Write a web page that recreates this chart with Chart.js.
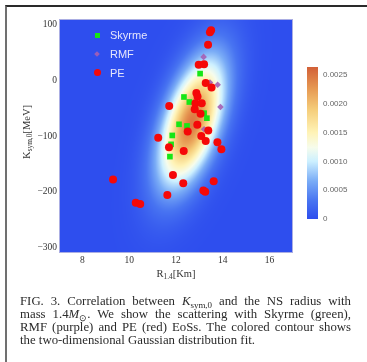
<!DOCTYPE html>
<html>
<head>
<meta charset="utf-8">
<script src="https://cdn.jsdelivr.net/npm/chart.js@4.4.1/dist/chart.umd.min.js"></script>
<style>
body{margin:0;background:#fff;width:367px;height:362px;overflow:hidden;position:relative;font-family:"Liberation Serif",serif}
#frame{position:absolute;left:5px;top:5px;width:362px;height:357px;border-top:2px solid #2a2a2a;border-left:2px solid #707070}
#main{position:absolute;left:0;top:0}
#cbar{position:absolute;left:300px;top:55px}
.axlab{position:absolute;white-space:nowrap;font-size:10.5px;color:#333;line-height:1}
#ylab{left:27px;top:132px;transform:translate(-50%,-50%) rotate(-90deg)}
#xlab{left:176px;top:274px;transform:translate(-50%,-50%)}
sub{font-size:70%;vertical-align:-0.3em;line-height:0}
#legend{position:absolute;left:0;top:0;font-family:"Liberation Sans",sans-serif;font-size:11px;color:#e6e6fb}
.lrow{position:absolute;left:110px;height:14px;line-height:14px}
.mk{position:absolute}
#caption{position:absolute;left:20px;top:295px;width:331px;font-size:12.8px;line-height:13px;color:#2b2b2b}
#caption div{white-space:nowrap}
#caption .j{white-space:normal;text-align:justify;text-align-last:justify}
</style>
</head>
<body>
<div id="frame"></div>
<canvas id="main" width="300" height="270"></canvas>
<canvas id="cbar" width="67" height="175"></canvas>
<div id="ylab" class="axlab">K<sub>sym,0</sub>[MeV]</div>
<div id="xlab" class="axlab">R<sub>1.4</sub>[Km]</div>
<div id="legend"></div>
<div id="caption">
<div class="j">FIG. 3. Correlation between <i>K</i><sub>sym,0</sub> and the NS radius with</div>
<div class="j">mass 1.4<i>M</i><sub>&#8857;</sub>. We show the scattering with Skyrme (green),</div>
<div class="j">RMF (purple) and PE (red) EoSs. The colored contour shows</div>
<div>the two-dimensional Gaussian distribution fit.</div>
</div>
<script>
// radius R_1.4 [km] and K_sym,0 [MeV] of each EoS
var SKYRME_R = [13.03, 12.34, 12.57, 13.20, 13.32, 12.13, 12.47, 11.84, 11.79, 11.74];
var SKYRME_K = [12, -30, -39, -59, -68, -79, -82, -99, -115, -137];
var RMF_R = [13.18, 13.45, 13.78, 13.90, 13.20];
var RMF_K = [42, -4, -8, -48, -88];
var PE_R = [13.50, 13.45, 13.37, 12.97, 13.20, 13.27, 13.52, 12.87, 12.92, 12.83, 13.10,
	11.71, 12.80, 13.05, 12.91, 12.50, 13.38, 13.08, 13.27, 11.24, 11.70, 12.33,
	13.77, 13.94, 11.87, 12.31, 13.61, 13.17, 13.25, 11.63, 9.31, 10.28, 10.47];
var PE_K = [90, 86, 64, 28, 29, -5, -13, -23, -29, -41, -41,
	-46, -52, -60, -80, -92, -90, -100, -109, -103, -120, -127,
	-111, -124, -170, -185, -181, -198, -200, -206, -178, -220, -222];

var R_TICKS = [8, 10, 12, 14, 16];
var K_TICKS = [100, 0, -100, -200, -300];
var CBAR_TICKS = [0, 0.0005, 0.001, 0.0015, 0.002, 0.0025];
var CBAR_MAX = 0.00264;

// colour map  (fraction, r, g, b)
var CMAP = [
	[0, 46, 78, 238],
	[0.12, 72, 116, 241],
	[0.25, 122, 172, 246],
	[0.38, 205, 240, 255],
	[0.47, 246, 252, 236],
	[0.57, 255, 243, 182],
	[0.72, 245, 205, 122],
	[0.86, 230, 152, 82],
	[1, 210, 96, 56]
];

function colorAt(t){
	if(t<0) t=0;
	if(t>1) t=1;
	for(var i=1;i<CMAP.length;i++){
		if(t<=CMAP[i][0]){
			var a=CMAP[i-1], b=CMAP[i];
			var f=(t-a[0])/(b[0]-a[0]);
			return [a[1]+(b[1]-a[1])*f, a[2]+(b[2]-a[2])*f, a[3]+(b[3]-a[3])*f];
		}
	}
	var l=CMAP[CMAP.length-1];
	return [l[1],l[2],l[3]];
}

function pts(xs, ys){
	return xs.map(function(v,i){ return {x:v, y:ys[i]}; });
}

// 2D gaussian fitted to all the EoS points
function fitGauss(xs, ys){
	var n=xs.length, mx=0, my=0, sxx=0, syy=0, sxy=0;
	for(var i=0;i<n;i++){ mx+=xs[i]; my+=ys[i]; }
	mx/=n; my/=n;
	for(var i=0;i<n;i++){
		sxx+=(xs[i]-mx)*(xs[i]-mx);
		syy+=(ys[i]-my)*(ys[i]-my);
		sxy+=(xs[i]-mx)*(ys[i]-my);
	}
	sxx/=n; syy/=n; sxy/=n;
	var sx=Math.sqrt(sxx), sy=Math.sqrt(syy), rho=sxy/(sx*sy);
	return {mx:mx, my:my, sx:sx, sy:sy, rho:rho};
}
var fit = fitGauss(SKYRME_R.concat(RMF_R, PE_R), SKYRME_K.concat(RMF_K, PE_K));

function density(x, y){
	var u=(x-fit.mx)/fit.sx, v=(y-fit.my)/fit.sy, r=fit.rho;
	var q=(u*u-2*r*u*v+v*v)/(1-r*r);
	return Math.exp(-0.5*q)/(2*Math.PI*fit.sx*fit.sy*Math.sqrt(1-r*r));
}

var heatPlugin = {
	id: 'heat',
	beforeDatasetsDraw: function(chart){
		var ctx=chart.ctx, a=chart.chartArea, xs=chart.scales.x, ys=chart.scales.y;
		var w=Math.round(a.right-a.left), h=Math.round(a.bottom-a.top);
		var off=document.createElement('canvas');
		off.width=w; off.height=h;
		var octx=off.getContext('2d');
		var img=octx.createImageData(w,h);
		for(var j=0;j<h;j++){
			var k=ys.getValueForPixel(a.top+j+0.5);
			for(var i=0;i<w;i++){
				var r=xs.getValueForPixel(a.left+i+0.5);
				var c=colorAt(density(r,k)/CBAR_MAX);
				var p=(j*w+i)*4;
				img.data[p]=c[0]; img.data[p+1]=c[1]; img.data[p+2]=c[2]; img.data[p+3]=255;
			}
		}
		octx.putImageData(img,0,0);
		ctx.drawImage(off, a.left, a.top);
		ctx.save();
		ctx.strokeStyle='rgba(185,185,225,0.9)';
		ctx.lineWidth=1;
		ctx.strokeRect(a.left+0.5, a.top+0.5, w-1, h-1);
		ctx.restore();
	}
};

var tickFont = {family:'"Liberation Serif", serif', size:9.5};

var mainChart = new Chart(document.getElementById('main'), {
	type: 'scatter',
	data: {
		datasets: [
			{label:'Skyrme', data:pts(SKYRME_R,SKYRME_K), pointStyle:'rect', pointRadius:4, backgroundColor:'#16e616', borderWidth:0, order:1},
			{label:'RMF', data:pts(RMF_R,RMF_K), pointStyle:'rectRot', pointRadius:3.3, backgroundColor:'rgba(165,95,180,0.9)', borderWidth:0, order:2},
			{label:'PE', data:pts(PE_R,PE_K), pointStyle:'circle', pointRadius:4, backgroundColor:'#f50808', borderWidth:0, order:0}
		]
	},
	options: {
		responsive: false,
		animation: false,
		events: [],
		layout: {padding:{top:19, right:7, left:0, bottom:0}},
		plugins: {legend:{display:false}, tooltip:{enabled:false}},
		scales: {
			x: {
				type:'linear', min:7, max:17,
				grid:{display:false, drawTicks:false}, border:{display:false},
				afterBuildTicks: function(s){ s.ticks = R_TICKS.map(function(v){ return {value:v}; }); },
				afterFit: function(s){ s.height = 17; },
				ticks:{padding:2, color:'#333', font:tickFont}
			},
			y: {
				type:'linear', min:-310, max:110,
				grid:{display:false, drawTicks:false}, border:{display:false},
				afterBuildTicks: function(s){ s.ticks = K_TICKS.map(function(v){ return {value:v}; }); },
				afterFit: function(s){ s.width = 59; },
				ticks:{padding:2, color:'#333', font:tickFont,
					callback: function(v){ return v<0 ? '\u2212'+(-v) : String(v); }}
			}
		}
	},
	plugins: [heatPlugin]
});

// legend inside the plot
var legend = document.getElementById('legend');
mainChart.data.datasets.forEach(function(d, i){
	var cy = 35 + i*18.8;
	var mk = document.createElement('div');
	mk.className = 'mk';
	if(d.pointStyle=='rect'){
		mk.style.cssText = 'left:94.5px;top:'+(cy-2.5)+'px;width:5px;height:5px;background:'+d.backgroundColor;
	} else if(d.pointStyle=='rectRot'){
		mk.style.cssText = 'left:95px;top:'+(cy-2)+'px;width:4px;height:4px;transform:rotate(45deg);background:'+d.backgroundColor;
	} else {
		mk.style.cssText = 'left:93.5px;top:'+(cy-3.5)+'px;width:7px;height:7px;border-radius:50%;background:'+d.backgroundColor;
	}
	legend.appendChild(mk);
	var row = document.createElement('div');
	row.className = 'lrow';
	row.style.top = (cy-7)+'px';
	row.textContent = d.label;
	legend.appendChild(row);
});

// colour bar
function cbarFill(chart){
	var a = chart.chartArea;
	if(!a) return CMAP[0];
	var g = chart.ctx.createLinearGradient(0, a.bottom, 0, a.top);
	CMAP.forEach(function(s){ g.addColorStop(s[0], 'rgb('+s[1]+','+s[2]+','+s[3]+')'); });
	return g;
}

new Chart(document.getElementById('cbar'), {
	type: 'bar',
	data: {
		labels: [''],
		datasets: [{data:[CBAR_MAX], backgroundColor:function(c){ return cbarFill(c.chart); }, borderWidth:0, barPercentage:1, categoryPercentage:1}]
	},
	options: {
		responsive: false,
		animation: false,
		events: [],
		layout: {padding:{left:7, top:12, bottom:11, right:0}},
		plugins: {legend:{display:false}, tooltip:{enabled:false}},
		scales: {
			x: {display:false},
			y: {
				position:'right', min:0, max:CBAR_MAX,
				grid:{display:false, drawTicks:false}, border:{display:false},
				afterBuildTicks: function(s){ s.ticks = CBAR_TICKS.map(function(v){ return {value:v}; }); },
				afterFit: function(s){ s.width = 49; },
				ticks:{padding:5, color:'#666', font:{family:'"Liberation Sans", sans-serif', size:8},
					callback: function(v){ return v===0 ? '0' : v.toFixed(4); }}
			}
		}
	}
});
</script>
</body>
</html>
